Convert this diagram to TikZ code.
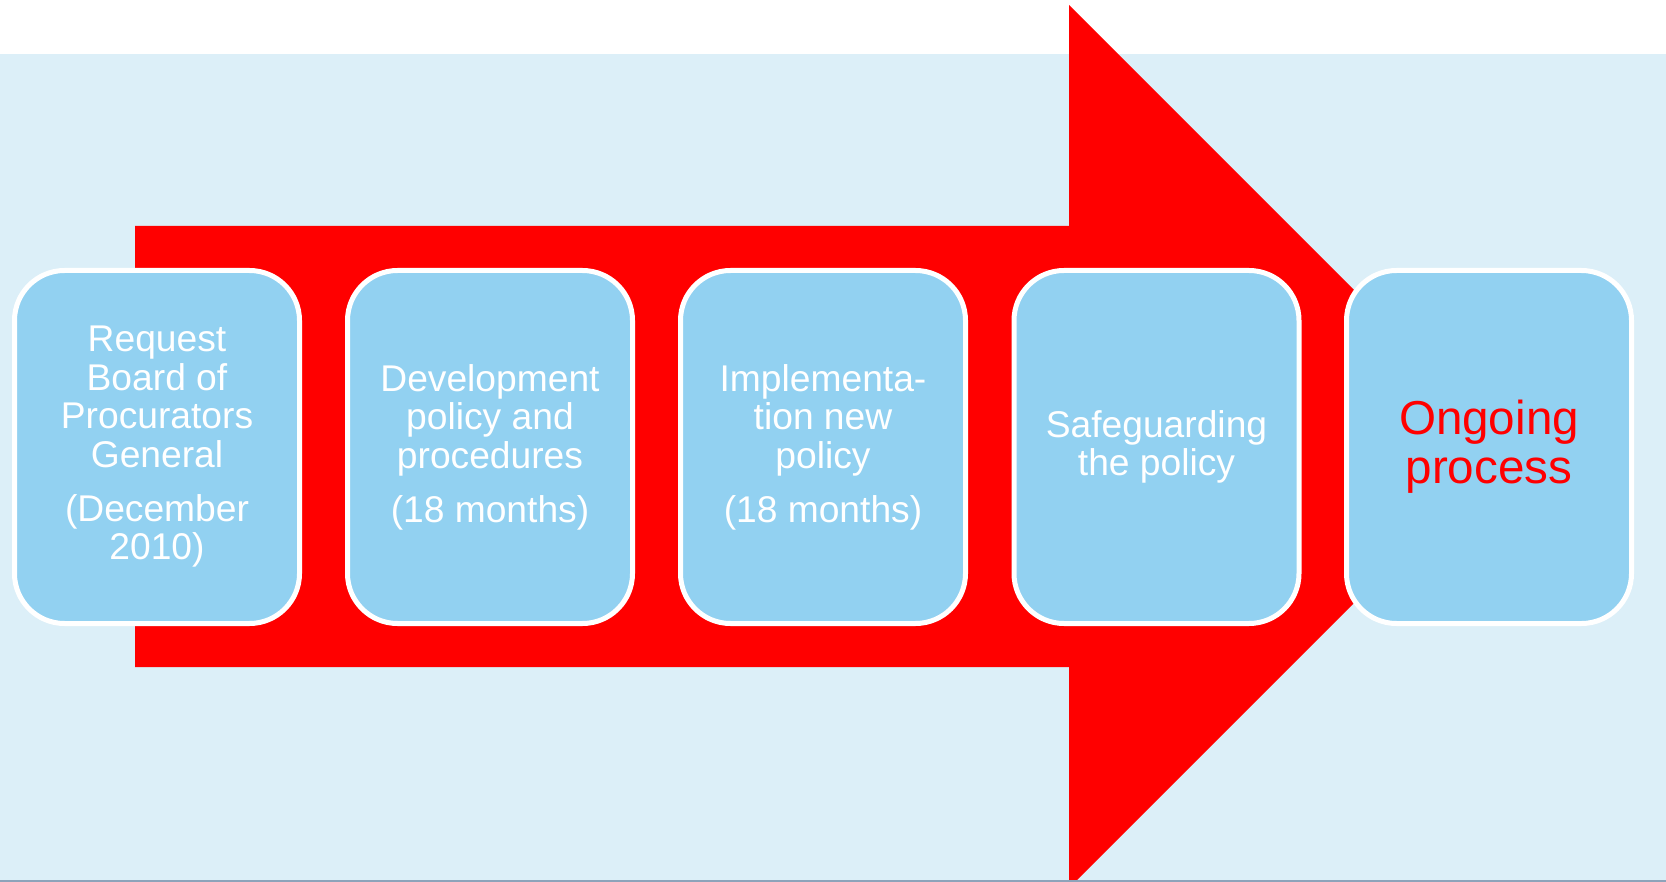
\documentclass[tikz,border=0pt]{standalone}
\usepackage{fontspec}
\setmainfont{Liberation Sans}
\definecolor{bgblue}{HTML}{DCEFF8}
\definecolor{boxblue}{HTML}{92D1F1}
\definecolor{arrowred}{HTML}{FF0000}
\definecolor{edgegray}{HTML}{8DA3BA}
\tikzset{
  stepbox/.style={draw=white, line width=2.5pt, fill=boxblue, rounded corners=25pt,
    minimum width=142.5pt, minimum height=176.5pt, inner sep=0pt, align=center,
    text=white, font=\fontsize{18.6pt}{19.25pt}\selectfont},
  endbox/.style={stepbox, text=arrowred, font=\fontsize{23.8pt}{24.5pt}\selectfont}
}
\begin{document}
\begin{tikzpicture}[x=0.5pt,y=-0.5pt]
\useasboundingbox (0,0) rectangle (1666,882);
\fill[white] (0,0) rectangle (1666,882);
\fill[bgblue] (0,54) rectangle (1666,882);
\begin{scope}
\clip (0,0) rectangle (1666,882);
\fill[arrowred] (135,226) -- (1069,226) -- (1069,5) -- (1510.5,446.5) -- (1069,888) -- (1069,667) -- (135,667) -- cycle;
\end{scope}
\draw[edgegray, line width=0.6pt] (0,881) -- (1666,881);
\node[stepbox] (s1) at (157,447) {Request\\Board of\\Procurators\\General\\[7.75pt](December\\2010)};
\node[stepbox] (s2) at (490,447) {Development\\policy and\\procedures\\[7.75pt](18 months)};
\node[stepbox] (s3) at (823,447) {Implementa-\\tion new\\policy\\[7.75pt](18 months)};
\node[stepbox] (s4) at (1156.5,447) {Safeguarding\\the policy};
\node[endbox] (s5) at (1489,447) {Ongoing\\process};
\end{tikzpicture}
\end{document}
